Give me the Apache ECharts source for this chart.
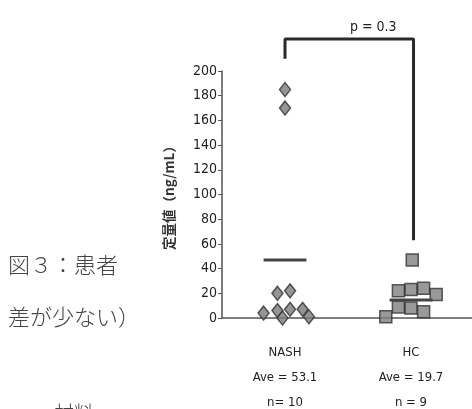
<!DOCTYPE html>
<html>
<head>
<meta charset="utf-8">
<script src="https://cdn.jsdelivr.net/npm/echarts@6/dist/echarts.min.js"></script>
<style>
  html, body { margin: 0; padding: 0; background: #fff; }
  #chart { width: 472px; height: 409px; }
</style>
</head>
<body>
<div id="chart"></div>
<script>
// groups on the x axis
const groups = ['NASH', 'HC'];
const groupNotes = ['Ave = 53.1\nn= 10', 'Ave = 19.7\nn = 9'];

// NASH values (ng/mL) and horizontal scatter within the column
const nashValues = [185, 170, 20, 22, 4, 6, 0, 7, 7, 1];
const nashJitter = [0, 0, -0.06, 0.04, -0.17, -0.06, -0.02, 0.04, 0.14, 0.19];

// HC values
const hcValues = [47, 22, 23, 24, 19, 9, 8, 5, 1];
const hcJitter = [0.01, -0.1, 0, 0.1, 0.2, -0.1, 0, 0.1, -0.2];

// mean bars as drawn
const meanLines = [47, 14.6];

// significance bracket
const bracketLeft = 210, bracketTop = 226, bracketRight = 63;
const pText = 'p = 0.3';

const yTicks = { min: 0, max: 200, interval: 20 };

const narrow = "'Liberation Sans Narrow','DejaVu Sans Condensed',sans-serif";
const jp = '"Noto Sans CJK JP",sans-serif';
const ink = '#333';

let chart = echarts.init(document.getElementById('chart'));

const toPoints = (vals, jit, center) => vals.map((v, i) => [center + jit[i], v]);

const meanSeries = meanLines.map((m, i) => ({
  type: 'line',
  xAxisIndex: 1,
  symbol: 'none',
  silent: true,
  lineStyle: { color: '#444', width: 3 },
  data: [[i - 0.17, m], [i + 0.17, m]]
}));

chart.setOption({
  animation: false,
  grid: { left: 222, top: 71, width: 252, height: 247, outerBoundsMode: 'none', containLabel: false },
  xAxis: [{
    type: 'category',
    data: groups,
    axisLine: { lineStyle: { color: '#555', width: 1.5 } },
    axisTick: { length: 3, lineStyle: { color: '#555' } },
    axisLabel: {
      margin: 22,
      fontFamily: narrow,
      fontSize: 13,
      lineHeight: 25,
      color: '#222',
      formatter: (v, i) => v + '\n' + groupNotes[i]
    }
  }, {
    type: 'value',
    min: -0.5,
    max: 1.5,
    show: false
  }],
  yAxis: {
    type: 'value',
    min: yTicks.min,
    max: yTicks.max,
    interval: yTicks.interval,
    name: '定量値（ng/mL）',
    nameLocation: 'middle',
    nameGap: 46,
    nameRotate: 90,
    nameTextStyle: {
      fontFamily: jp,
      fontSize: 13.5,
      fontWeight: 'bold',
      color: '#333'
    },
    splitLine: { show: false },
    axisLine: { show: true, onZero: false, lineStyle: { color: '#555', width: 1.5 } },
    axisTick: { show: true, length: 4, lineStyle: { color: '#555' } },
    axisLabel: { fontFamily: narrow, fontSize: 14, color: '#222', margin: 5 }
  },
  series: [{
    type: 'scatter',
    xAxisIndex: 1,
    symbol: 'diamond',
    symbolSize: [11, 14],
    itemStyle: { color: '#7a7a7a', borderColor: ink, borderWidth: 1.5 },
    data: toPoints(nashValues, nashJitter, 0)
  }, {
    type: 'scatter',
    xAxisIndex: 1,
    symbol: 'rect',
    symbolSize: 12,
    itemStyle: { color: '#808080', borderColor: ink, borderWidth: 1.5 },
    data: toPoints(hcValues, hcJitter, 1)
  },
  ...meanSeries,
  {
    type: 'line',
    xAxisIndex: 1,
    symbol: 'none',
    clip: false,
    silent: true,
    lineStyle: { color: '#2a2a2a', width: 3 },
    data: [[0, bracketLeft], [0, bracketTop], [1.02, bracketTop], [1.02, bracketRight]]
  }],
  graphic: [{
    type: 'text',
    left: 350, top: 20,
    style: { text: pText, font: '14px ' + narrow, fill: '#222', textAlign: 'center', textVerticalAlign: 'middle' }
  }, {
    type: 'text',
    left: 8, top: 254,
    style: { text: '図３：患者', font: '300 22px ' + jp, fill: '#444' }
  }, {
    type: 'text',
    left: 8, top: 306,
    style: { text: '差が少ない）', font: '300 22px ' + jp, fill: '#444' }
  }, {
    type: 'text',
    left: 54, top: 403,
    style: { text: '材料', font: '300 20px ' + jp, fill: '#444' }
  }]
});
</script>
</body>
</html>
